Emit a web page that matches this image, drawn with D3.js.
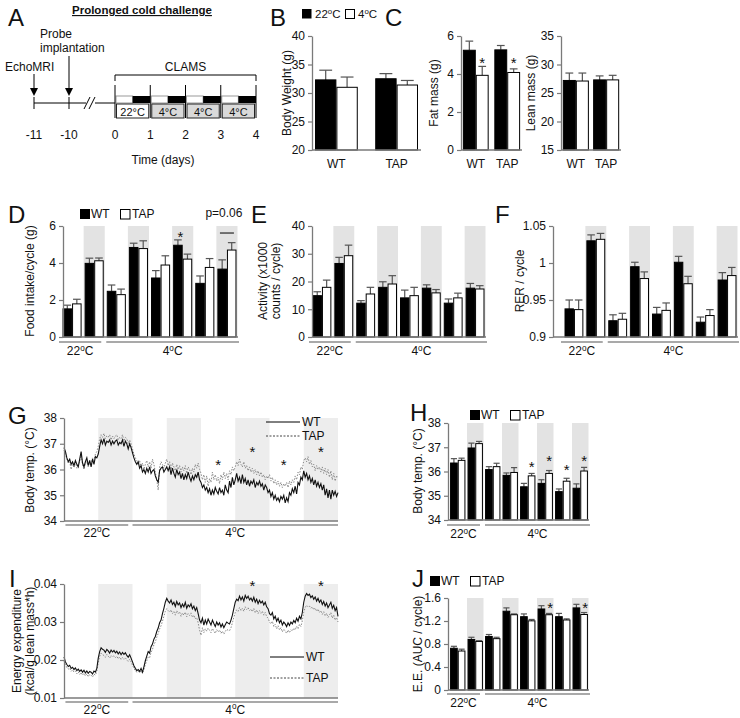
<!DOCTYPE html>
<html><head><meta charset="utf-8">
<script src="https://cdn.jsdelivr.net/npm/d3@7"></script>
<style>
body{margin:0;background:#fff;}
svg{display:block;font-family:"Liberation Sans",Arial,Helvetica,sans-serif;}
</style></head><body>
<svg id="fig" width="740" height="718"></svg>
<script>
// ---------------- DATA ----------------
const genotypes = ["WT", "TAP"];
// B: body weight (g)
const bodyWeight22 = [32.3, 32.5], bodyWeight22Err = [1.7, 0.9];
const bodyWeight4  = [31.0, 31.4], bodyWeight4Err  = [1.8, 0.8];
// C: fat / lean mass (g)
const fatMass22 = [5.25, 5.27], fatMass22Err = [0.48, 0.23];
const fatMass4  = [3.93, 4.08], fatMass4Err  = [0.47, 0.19];
const leanMass22 = [27.2, 27.3], leanMass22Err = [1.3, 0.7];
const leanMass4  = [27.1, 27.3], leanMass4Err  = [1.4, 0.8];
// cycles for D,E,F,H,J
const cyclePhase = ["light","dark","light","dark","light","dark","light","dark"];
const cycleTemp  = ["22","22","4","4","4","4","4","4"];
// D: food intake (g / cycle)
const foodWT = [1.52, 3.98, 2.47, 4.84, 3.19, 4.96, 2.90, 3.67];
const foodWTErr = [0.20, 0.28, 0.34, 0.23, 0.40, 0.29, 0.40, 0.50];
const foodTAP = [1.79, 4.12, 2.29, 4.78, 3.89, 4.21, 3.76, 4.70];
const foodTAPErr = [0.25, 0.15, 0.30, 0.42, 0.50, 0.27, 0.48, 0.40];
// E: activity (x1000 counts / cycle)
const actWT = [14.9, 26.5, 12.2, 17.9, 14.1, 17.6, 12.2, 17.6];
const actWTErr = [1.4, 2.2, 0.9, 2.0, 2.8, 1.2, 1.5, 1.7];
const actTAP = [17.9, 29.3, 15.5, 19.1, 14.9, 15.9, 14.1, 17.3];
const actTAPErr = [2.6, 3.8, 2.4, 3.0, 3.0, 1.2, 1.7, 1.2];
// F: RER / cycle
const rerWT = [0.938, 1.030, 0.922, 0.995, 0.931, 1.001, 0.920, 0.977];
const rerWTErr = [0.012, 0.008, 0.008, 0.006, 0.009, 0.008, 0.007, 0.010];
const rerTAP = [0.937, 1.032, 0.924, 0.979, 0.936, 0.972, 0.929, 0.983];
const rerTAPErr = [0.013, 0.008, 0.008, 0.009, 0.010, 0.010, 0.008, 0.011];
// H: body temperature / cycle (°C)
const tempWT = [36.35, 36.97, 36.08, 35.84, 35.37, 35.51, 35.17, 35.31];
const tempWTErr = [0.18, 0.20, 0.12, 0.10, 0.14, 0.15, 0.11, 0.18];
const tempTAP = [36.46, 37.15, 36.20, 35.96, 35.82, 35.92, 35.60, 36.02];
const tempTAPErr = [0.09, 0.09, 0.14, 0.20, 0.10, 0.12, 0.12, 0.15];
// J: energy expenditure AUC / cycle
const eeWT = [0.726, 0.879, 0.931, 1.370, 1.275, 1.409, 1.275, 1.428];
const eeWTErr = [0.034, 0.038, 0.034, 0.058, 0.048, 0.057, 0.057, 0.062];
const eeTAP = [0.678, 0.845, 0.893, 1.309, 1.203, 1.309, 1.218, 1.313];
const eeTAPErr = [0.032, 0.012, 0.024, 0.014, 0.024, 0.023, 0.019, 0.034];
// G: body temperature trace, every 0.5 h from 0 to 96 h
const tempTraceWT = [
36.85,36.7,36.45,36.3,36.4,36.2,36.3,36.15,36.35,36.2,36.1,36.4,
36.7,36.25,36.1,36.3,36.45,36.15,36.35,36.1,36.4,36.2,36.5,36.45,
36.6,36.9,37.15,37.0,37.2,36.95,37.1,37.05,37.15,36.95,37.1,37.0,
37.1,37.15,36.95,37.05,37.0,37.15,36.9,37.1,37.0,36.8,37.0,36.85,
36.65,36.45,36.3,36.2,36.3,36.05,36.15,35.9,36.0,35.85,36.05,35.9,
36.1,35.85,35.95,36.0,35.75,35.6,35.5,35.95,36.05,36.1,35.9,36.0,
36.1,35.95,36.1,35.8,36.05,35.85,35.7,36.0,35.8,35.9,35.65,35.85,
35.6,35.8,35.65,35.9,35.7,35.55,35.75,35.6,35.8,35.7,35.9,35.6,
35.5,35.3,35.4,35.2,35.3,35.1,35.25,35.0,35.2,35.05,35.3,35.15,
35.05,35.3,35.1,35.2,35.0,35.4,35.2,35.1,35.55,35.3,35.7,35.4,
35.6,35.85,35.55,35.7,35.45,35.8,35.5,35.65,35.4,35.6,35.35,35.55,
35.45,35.6,35.3,35.5,35.4,35.55,35.35,35.45,35.2,35.4,35.3,35.1,
35.2,34.95,35.1,34.85,35.0,34.8,34.9,34.75,34.95,34.85,35.0,34.7,
34.9,34.75,35.1,35.0,35.25,35.1,35.35,35.05,35.5,35.4,35.7,35.6,
35.95,35.7,35.85,35.6,35.75,35.5,35.65,35.4,35.6,35.35,35.5,35.3,
35.45,35.2,35.4,35.0,35.25,34.9,35.2,34.85,35.2,35.0,35.15,34.95,
35.1];
const tempTraceTAP = [
36.75,36.6,36.4,36.25,36.3,36.0,36.25,36.1,36.3,36.05,36.2,36.3,
36.55,36.2,36.0,36.25,36.3,36.1,36.3,36.2,36.45,36.35,36.6,36.7,
36.9,37.2,37.35,37.25,37.4,37.2,37.3,37.25,37.35,37.15,37.3,37.2,
37.3,37.35,37.15,37.25,37.2,37.35,37.1,37.25,37.2,37.0,37.15,37.0,
36.8,36.6,36.45,36.35,36.2,36.35,36.1,36.25,36.0,36.2,36.35,36.1,
36.3,36.05,36.4,36.2,35.9,35.6,35.2,36.1,36.3,36.2,36.05,36.25,
36.4,36.15,36.3,36.0,36.25,36.1,35.95,36.2,36.0,36.15,35.9,36.1,
35.95,36.15,35.85,36.1,36.0,35.8,36.05,35.9,36.2,36.05,36.25,36.0,
35.85,35.6,35.8,35.5,35.75,35.35,35.65,35.5,35.9,35.6,35.8,35.55,
35.7,35.45,35.8,35.6,35.9,35.65,35.85,35.6,35.95,35.8,36.1,35.95,
36.1,36.3,36.15,36.4,36.2,36.1,36.3,36.05,36.15,35.95,36.1,35.9,
36.05,35.85,36.0,35.8,35.95,35.75,35.9,35.7,35.8,35.6,35.75,35.65,
35.8,35.55,35.7,35.45,35.6,35.4,35.55,35.35,35.5,35.3,35.45,35.35,
35.5,35.3,35.55,35.4,35.6,35.5,35.75,35.6,35.9,35.8,36.1,36.0,
36.35,36.45,36.3,36.5,36.2,36.35,36.1,36.2,35.95,36.15,36.0,36.1,
35.9,36.1,35.85,36.05,35.8,36.0,35.7,35.95,35.6,35.85,35.55,35.75,
35.7];
// I: energy expenditure trace (kcal/g lean mass*h), every 0.5 h
const eeTraceWT = [
.0208,.0195,.0188,.0183,.0186,.0178,.0181,.0175,.0179,.0172,.0176,.0170,
.0174,.0168,.0173,.0166,.0171,.0165,.0170,.0168,.0163,.0171,.0168,.0178,
.0205,.0222,.0232,.0228,.0226,.0220,.0228,.0224,.0218,.0226,.0221,.0225,
.0219,.0223,.0216,.0221,.0214,.0220,.0215,.0219,.0212,.0207,.0214,.0205,
.0195,.0185,.0178,.0172,.0175,.0170,.0178,.0168,.0182,.0198,.0210,.0222,
.0218,.0235,.0242,.0255,.0262,.0275,.0284,.0298,.0305,.0322,.0336,.0352,
.0362,.0355,.0350,.0358,.0346,.0352,.0341,.0354,.0345,.0350,.0338,.0347,
.0340,.0352,.0336,.0345,.0340,.0348,.0335,.0342,.0330,.0338,.0322,.0305,
.0298,.0310,.0292,.0305,.0295,.0308,.0300,.0292,.0305,.0296,.0288,.0300,
.0292,.0298,.0287,.0295,.0285,.0293,.0300,.0297,.0295,.0305,.0318,.0335,
.0352,.0360,.0356,.0368,.0358,.0366,.0355,.0370,.0362,.0368,.0358,.0363,
.0355,.0365,.0352,.0360,.0348,.0357,.0350,.0355,.0345,.0352,.0340,.0335,
.0322,.0318,.0325,.0308,.0315,.0302,.0310,.0298,.0305,.0292,.0300,.0295,
.0288,.0298,.0291,.0300,.0295,.0304,.0298,.0310,.0302,.0315,.0308,.0325,
.0352,.0368,.0375,.0370,.0373,.0364,.0369,.0360,.0366,.0355,.0362,.0352,
.0358,.0346,.0354,.0342,.0350,.0338,.0345,.0352,.0336,.0344,.0330,.0338,
.0315];
const eeTraceTAP = [
.0198,.0188,.0180,.0176,.0179,.0170,.0174,.0168,.0171,.0164,.0169,.0162,
.0167,.0160,.0165,.0158,.0164,.0156,.0162,.0160,.0155,.0163,.0160,.0170,
.0192,.0210,.0218,.0214,.0212,.0207,.0215,.0210,.0205,.0212,.0208,.0211,
.0206,.0210,.0203,.0208,.0201,.0207,.0202,.0206,.0200,.0196,.0202,.0195,
.0186,.0178,.0172,.0168,.0171,.0166,.0172,.0165,.0175,.0188,.0198,.0208,
.0206,.0220,.0228,.0240,.0248,.0260,.0270,.0282,.0290,.0302,.0315,.0328,
.0335,.0330,.0326,.0332,.0322,.0328,.0318,.0330,.0322,.0327,.0315,.0324,
.0318,.0326,.0314,.0322,.0317,.0324,.0312,.0318,.0308,.0312,.0298,.0278,
.0265,.0285,.0272,.0282,.0276,.0284,.0278,.0272,.0283,.0276,.0270,.0280,
.0274,.0279,.0270,.0276,.0268,.0275,.0281,.0278,.0277,.0285,.0298,.0312,
.0325,.0332,.0328,.0338,.0330,.0336,.0328,.0340,.0333,.0338,.0330,.0334,
.0327,.0336,.0324,.0332,.0322,.0330,.0323,.0328,.0318,.0325,.0314,.0310,
.0300,.0295,.0302,.0288,.0294,.0282,.0290,.0279,.0285,.0274,.0281,.0276,
.0270,.0279,.0272,.0280,.0276,.0284,.0279,.0289,.0282,.0294,.0288,.0303,
.0326,.0338,.0344,.0340,.0342,.0336,.0340,.0332,.0337,.0328,.0334,.0325,
.0330,.0320,.0327,.0316,.0323,.0312,.0318,.0325,.0310,.0318,.0305,.0312,
.0300];
const darkPhasesH = [[12,24],[36,48],[60,72],[84,96]];
const tempStarsG = [[54,36.3],[66,36.78],[77,36.3],[90,36.78]];
const eeStarsI = [[66,0.0402],[90,0.0402]];
// A: timeline
const preDays = [-11, -10];
const clamsDays = [0, 1, 2, 3, 4];
const clamsTemps = ["22", "4", "4", "4"];

// ---------------- STYLE ----------------
const svg = d3.select("#fig");
const AXIS_COL = "#7a7a7a", TXT = "#111", SHADE = "#e3e3e3", SHADE_L = "#ededed";
const FS = 12;

function degText(sel, num, sym) {
  sel.append("tspan").text(num);
  if (sym === "deg") { sel.append("tspan").text("°C"); return; }
  sel.append("tspan").attr("font-size", "0.68em").attr("dy", "-0.5em").text("o");
  sel.append("tspan").attr("dy", "0.34em").text("C");
}
function letter(t, x, y) {
  svg.append("text").attr("x", x).attr("y", y).attr("font-size", 24).attr("fill", TXT).text(t);
}
function yAxis(scale, x, ticks, fmt) {
  const ax = d3.axisLeft(scale).tickValues(ticks).tickSize(4).tickSizeOuter(0).tickPadding(3)
    .tickFormat(fmt || (d => d));
  const a = svg.append("g").attr("transform", `translate(${x},0)`).call(ax);
  a.select(".domain").attr("stroke", AXIS_COL).attr("stroke-width", 1.3);
  a.selectAll(".tick line").attr("stroke", AXIS_COL).attr("stroke-width", 1.2);
  a.selectAll(".tick text").attr("fill", TXT).attr("font-size", FS).attr("font-family", "Liberation Sans, Arial, sans-serif");
  return a;
}
function yTitle(lines, x, yc) {
  lines.forEach((l, i) => {
    svg.append("text").attr("transform", `translate(${x + i * 13},${yc}) rotate(-90)`)
      .attr("text-anchor", "middle").attr("font-size", FS).attr("fill", TXT).text(l);
  });
}
function hline(x1, x2, y, col, w) {
  svg.append("line").attr("x1", x1).attr("x2", x2).attr("y1", y).attr("y2", y)
    .attr("stroke", col || AXIS_COL).attr("stroke-width", w || 1.3);
}
function star(x, y) {
  svg.append("text").attr("x", x).attr("y", y + 8).attr("text-anchor", "middle")
    .attr("font-size", 15).attr("fill", TXT).text("*");
}
function legendWT(x, y) {
  svg.append("rect").attr("x", x).attr("y", y - 9).attr("width", 10).attr("height", 10).attr("fill", "#000");
  svg.append("text").attr("x", x + 11).attr("y", y).attr("font-size", FS).attr("fill", TXT).text("WT");
  svg.append("rect").attr("x", x + 40.5).attr("y", y - 8.5).attr("width", 9.5).attr("height", 9.5)
    .attr("fill", "#fff").attr("stroke", "#000");
  svg.append("text").attr("x", x + 52).attr("y", y).attr("font-size", FS).attr("fill", TXT).text("TAP");
}

// ---------------- PANEL A ----------------
(function () {
  letter("A", 8, 26);
  svg.append("text").attr("x", 72).attr("y", 14).attr("font-size", 11.5)
    .attr("font-weight", "bold").attr("fill", TXT).attr("text-decoration", "underline")
    .text("Prolonged cold challenge");
  const xPre = d3.scaleLinear().domain([-11, -10]).range([34, 69]);
  const xDay = d3.scaleLinear().domain([0, 4]).range([115, 256]);
  const yT = 103;
  svg.append("text").attr("x", 40).attr("y", 38).attr("font-size", FS).attr("fill", TXT).text("Probe");
  svg.append("text").attr("x", 40).attr("y", 52).attr("font-size", FS).attr("fill", TXT).text("implantation");
  svg.append("text").attr("x", 5).attr("y", 71).attr("font-size", FS).attr("fill", TXT).text("EchoMRI");
  [[preDays[0], 74], [preDays[1], 56]].forEach(([d, y0]) => {
    const x = xPre(d);
    svg.append("line").attr("x1", x).attr("x2", x).attr("y1", y0).attr("y2", 90).attr("stroke", "#000");
    svg.append("path").attr("d", `M${x - 4},88 L${x + 4},88 L${x},96 Z`).attr("fill", "#000");
  });
  svg.append("line").attr("x1", xPre(-11)).attr("x2", 86).attr("y1", yT).attr("y2", yT).attr("stroke", "#000");
  svg.append("line").attr("x1", 95).attr("x2", xDay(0)).attr("y1", yT).attr("y2", yT).attr("stroke", "#000");
  [[84, 90], [89, 95]].forEach(([a, b]) => svg.append("line").attr("x1", a).attr("y1", 109).attr("x2", b).attr("y2", 97).attr("stroke", "#000"));
  preDays.forEach(d => svg.append("line").attr("x1", xPre(d)).attr("x2", xPre(d)).attr("y1", 97).attr("y2", 109).attr("stroke", "#000"));
  svg.append("path").attr("d", `M${xDay(0)},81 V75 H${xDay(4)} V81`).attr("fill", "none").attr("stroke", "#000");
  svg.append("text").attr("x", (xDay(0) + xDay(4)) / 2).attr("y", 71).attr("text-anchor", "middle")
    .attr("font-size", FS).attr("fill", TXT).text("CLAMS");
  clamsTemps.forEach((tp, i) => {
    svg.append("rect").attr("x", xDay(i) + 1).attr("y", 96).attr("width", xDay(i + 0.5) - xDay(i) - 1).attr("height", 7)
      .attr("fill", "#fff").attr("stroke", "#999");
    svg.append("rect").attr("x", xDay(i + 0.5)).attr("y", 96).attr("width", xDay(i + 1) - xDay(i + 0.5)).attr("height", 7)
      .attr("fill", "#000");
    svg.append("rect").attr("x", xDay(i) + 1.5).attr("y", 104).attr("width", xDay(i + 1) - xDay(i) - 3).attr("height", 14)
      .attr("fill", tp === "22" ? "#fff" : "#d9d9d9").attr("stroke", "#222");
    const tx = svg.append("text").attr("x", (xDay(i) + xDay(i + 1)) / 2).attr("y", 115.5).attr("text-anchor", "middle")
      .attr("font-size", 11).attr("fill", TXT);
    degText(tx, tp, "deg");
  });
  clamsDays.forEach(d => svg.append("line").attr("x1", xDay(d)).attr("x2", xDay(d)).attr("y1", 85).attr("y2", 118)
    .attr("stroke", "#000"));
  preDays.forEach(d => svg.append("text").attr("x", xPre(d)).attr("y", 139).attr("text-anchor", "middle")
    .attr("font-size", FS).attr("fill", TXT).text(d));
  clamsDays.forEach(d => svg.append("text").attr("x", xDay(d)).attr("y", 139).attr("text-anchor", "middle")
    .attr("font-size", FS).attr("fill", TXT).text(d));
  svg.append("text").attr("x", 163).attr("y", 164).attr("text-anchor", "middle").attr("font-size", FS)
    .attr("fill", TXT).text("Time (days)");
})();

// ---------------- simple 2-category bars (B, C) ----------------
function simpleBars(o) {
  const y = d3.scaleLinear().domain(o.domain).range([o.yBot, o.yTop]);
  const x = d3.scaleBand().domain(genotypes).range([o.x0, o.x1]).paddingInner(o.pi).paddingOuter(o.po);
  const ix = d3.scaleBand().domain(["a", "b"]).range([0, x.bandwidth()]);
  const series = [
    { k: "a", v: o.a, e: o.aErr, fill: "#000" },
    { k: "b", v: o.b, e: o.bErr, fill: "#fff" }];
  const g = svg.append("g");
  series.forEach(s => {
    genotypes.forEach((c, i) => {
      const bx = x(c) + ix(s.k), bw = ix.bandwidth(), cx = bx + bw / 2;
      g.append("line").attr("x1", cx).attr("x2", cx).attr("y1", y(s.v[i])).attr("y2", y(s.v[i] + s.e[i]))
        .attr("stroke", "#555").attr("stroke-width", 1.2);
      g.append("line").attr("x1", cx - bw * 0.3).attr("x2", cx + bw * 0.3).attr("y1", y(s.v[i] + s.e[i]))
        .attr("y2", y(s.v[i] + s.e[i])).attr("stroke", "#555").attr("stroke-width", 1.2);
      g.append("rect").attr("x", bx + 0.5).attr("width", bw - 1).attr("y", y(s.v[i]))
        .attr("height", o.yBot - y(s.v[i])).attr("fill", s.fill).attr("stroke", "#000").attr("stroke-width", 1);
    });
  });
  hline(o.x0, o.x1, o.yBot);
  yAxis(y, o.x0, o.ticks);
  genotypes.forEach(c => svg.append("text").attr("x", x(c) + x.bandwidth() / 2).attr("y", o.yBot + 18)
    .attr("text-anchor", "middle").attr("font-size", FS).attr("fill", TXT).text(c));
  if (o.stars) o.stars.forEach(([i, v]) => star(x(genotypes[i]) + ix("b") + ix.bandwidth() / 2, y(v)));
  return { x, y };
}

// ---------------- PANEL B ----------------
letter("B", 270, 26);
svg.append("rect").attr("x", 302).attr("y", 9).attr("width", 9.5).attr("height", 9.5).attr("fill", "#000");
degText(svg.append("text").attr("x", 315).attr("y", 18).attr("font-size", 11.5).attr("fill", TXT), "22");
svg.append("rect").attr("x", 345.5).attr("y", 9.5).attr("width", 9).attr("height", 9).attr("fill", "#fff").attr("stroke", "#000");
degText(svg.append("text").attr("x", 358).attr("y", 18).attr("font-size", 11.5).attr("fill", TXT), "4");
simpleBars({ domain: [20, 40], ticks: [20, 25, 30, 35, 40], x0: 312, x1: 421, yTop: 36, yBot: 150, pi: 0.29, po: 0.05,
  a: bodyWeight22, aErr: bodyWeight22Err, b: bodyWeight4, bErr: bodyWeight4Err });
yTitle(["Body Weight (g)"], 291, 93);

// ---------------- PANEL C ----------------
letter("C", 385, 26);
simpleBars({ domain: [0, 6], ticks: [0, 2, 4, 6], x0: 461, x1: 522, yTop: 36, yBot: 150, pi: 0.18, po: 0.06,
  a: fatMass22, aErr: fatMass22Err, b: fatMass4, bErr: fatMass4Err, stars: [[0, 4.72], [1, 4.72]] });
yTitle(["Fat mass (g)"], 438, 93);
simpleBars({ domain: [15, 35], ticks: [15, 20, 25, 30, 35], x0: 561, x1: 621, yTop: 36, yBot: 150, pi: 0.14, po: 0.06,
  a: leanMass22, aErr: leanMass22Err, b: leanMass4, bErr: leanMass4Err });
yTitle(["Lean mass (g)"], 535, 93);

// ---------------- grouped cycle bars ----------------
function cycleBars(o) {
  const y = d3.scaleLinear().domain(o.domain).range([o.yBot, o.yTop]);
  const gx = d3.scaleBand().domain(d3.range(cyclePhase.length)).range(o.xr);
  const ix = d3.scaleBand().domain(genotypes).range([0, gx.bandwidth()]).paddingOuter(o.po || 0.16);
  const g = svg.append("g");
  g.selectAll("rect.shade").data(cyclePhase.map((p, i) => ({ p, i })).filter(d => d.p === "dark")).join("rect")
    .attr("x", d => gx(d.i) + 0.5).attr("width", gx.bandwidth() - 1).attr("y", o.yTop)
    .attr("height", o.yBot - o.yTop).attr("fill", SHADE);
  const series = [
    { k: "WT", v: o.wt, e: o.wtErr, fill: "#000" },
    { k: "TAP", v: o.tap, e: o.tapErr, fill: "#fff" }];
  series.forEach(s => {
    s.v.forEach((v, i) => {
      const bx = gx(i) + ix(s.k), bw = ix.bandwidth(), cx = bx + bw / 2, top = y(v + s.e[i]);
      g.append("line").attr("x1", cx).attr("x2", cx).attr("y1", y(v)).attr("y2", top).attr("stroke", "#555").attr("stroke-width", 1.2);
      g.append("line").attr("x1", cx - bw * 0.4).attr("x2", cx + bw * 0.4).attr("y1", top).attr("y2", top)
        .attr("stroke", "#555").attr("stroke-width", 1.2);
      g.append("rect").attr("x", bx + 0.5).attr("width", bw - 1).attr("y", y(v)).attr("height", o.yBot - y(v))
        .attr("fill", s.fill).attr("stroke", "#000").attr("stroke-width", 1);
    });
  });
  hline(o.x0, o.xr[1], o.yBot);
  yAxis(y, o.x0, o.ticks, o.fmt);
  const first4 = cycleTemp.indexOf("4");
  const l1 = [gx(0) - 2, gx(first4) - 4], l2 = [gx(first4) + 1, o.xr[1] + 1];
  [[l1, "22"], [l2, "4"]].forEach(([l, tp]) => {
    hline(l[0], l[1], o.yBot + o.gap, "#555", 1.2);
    degText(svg.append("text").attr("x", (l[0] + l[1]) / 2).attr("y", o.yBot + o.gap + 13).attr("text-anchor", "middle")
      .attr("font-size", FS).attr("fill", TXT), tp);
  });
  if (o.stars) o.stars.forEach(([i, v, dx]) => star(gx(i) + ix("TAP") + ix.bandwidth() / 2 + (dx || 0), y(v)));
  return { gx, ix, y };
}

// ---------------- PANEL D ----------------
letter("D", 8, 223);
legendWT(80, 218);
const pD = cycleBars({ domain: [0, 6], ticks: [0, 2, 4, 6], x0: 63, xr: [61, 238], yTop: 226, yBot: 337, gap: 5,
  wt: foodWT, wtErr: foodWTErr, tap: foodTAP, tapErr: foodTAPErr, stars: [[5, 5.55, -7]] });
yTitle(["Food intake/cycle (g)"], 34, 281);
(function () {
  const cx = pD.gx(7) + pD.gx.bandwidth() / 2;
  svg.append("text").attr("x", cx - 3).attr("y", 217).attr("text-anchor", "middle").attr("font-size", FS).attr("fill", TXT).text("p=0.06");
  hline(cx - 7, cx + 7, pD.y(5.62), "#000", 1);
})();

// ---------------- PANEL E ----------------
letter("E", 251, 223);
cycleBars({ domain: [0, 40], ticks: [0, 10, 20, 30, 40], x0: 312, xr: [311, 486], yTop: 226, yBot: 337, gap: 5,
  wt: actWT, wtErr: actWTErr, tap: actTAP, tapErr: actTAPErr });
yTitle(["Activity (x1000", "counts / cycle)"], 267, 281);

// ---------------- PANEL F ----------------
letter("F", 495, 223);
cycleBars({ domain: [0.9, 1.05], ticks: [0.9, 0.95, 1, 1.05], x0: 553, xr: [563, 738], yTop: 226, yBot: 337, gap: 5,
  wt: rerWT, wtErr: rerWTErr, tap: rerTAP, tapErr: rerTAPErr });
yTitle(["RER / cycle"], 524, 281);

// ---------------- line panels (G, I) ----------------
function linePanel(o) {
  const x = d3.scaleLinear().domain([0, 96]).range([o.x0, o.x1]);
  const y = d3.scaleLinear().domain(o.domain).range([o.yBot, o.yTop]);
  svg.append("g").selectAll("rect").data(darkPhasesH).join("rect")
    .attr("x", d => x(d[0])).attr("width", d => x(d[1]) - x(d[0])).attr("y", o.yTop).attr("height", o.yBot - o.yTop)
    .attr("fill", SHADE_L);
  const line = d3.line().x((d, i) => x(i * 0.5)).y(d => y(d));
  svg.append("path").datum(o.tap).attr("d", line).attr("fill", "none").attr("stroke", "#8a8a8a")
    .attr("stroke-width", 1).attr("stroke-dasharray", "1.5,1.5");
  svg.append("path").datum(o.wt).attr("d", line).attr("fill", "none").attr("stroke", "#111").attr("stroke-width", 1.1);
  hline(o.x0, o.x1, o.yBot);
  yAxis(y, o.x0, o.ticks, o.fmt);
  const lg = o.legend;
  svg.append("line").attr("x1", lg[0]).attr("x2", lg[0] + 34).attr("y1", lg[1]).attr("y2", lg[1]).attr("stroke", "#000");
  svg.append("text").attr("x", lg[0] + 36).attr("y", lg[1] + 4).attr("font-size", FS).attr("fill", TXT).text("WT");
  svg.append("line").attr("x1", lg[0]).attr("x2", lg[0] + 34).attr("y1", lg[2]).attr("y2", lg[2]).attr("stroke", "#444")
    .attr("stroke-dasharray", "2,1.5");
  svg.append("text").attr("x", lg[0] + 36).attr("y", lg[2] + 4).attr("font-size", FS).attr("fill", TXT).text("TAP");
  [[[0.5, 22.5], "22"], [[24, 96], "4"]].forEach(([r, tp]) => {
    hline(x(r[0]), x(r[1]), o.yBot + 4, "#555", 1.2);
    degText(svg.append("text").attr("x", (x(r[0]) + x(r[1])) / 2).attr("y", o.yBot + 15.5).attr("text-anchor", "middle")
      .attr("font-size", FS).attr("fill", TXT), tp);
  });
  o.stars.forEach(([h, v]) => star(x(h), y(v)));
}

// ---------------- PANEL G ----------------
letter("G", 8, 424);
linePanel({ domain: [34, 38], ticks: [34, 35, 36, 37, 38], x0: 64, x1: 338, yTop: 418, yBot: 521,
  wt: tempTraceWT, tap: tempTraceTAP, legend: [266, 422, 436], stars: tempStarsG });
yTitle(["Body temp. (°C)"], 34, 470);

// ---------------- PANEL H ----------------
letter("H", 410, 421);
legendWT(470, 419);
cycleBars({ domain: [34, 38], ticks: [34, 35, 36, 37, 38], x0: 448, xr: [449, 589], yTop: 423, yBot: 520, gap: 5,
  wt: tempWT, wtErr: tempWTErr, tap: tempTAP, tapErr: tempTAPErr, po: 0.14,
  stars: [[4, 36.3], [5, 36.55], [6, 36.2], [7, 36.55]] });
yTitle(["Body temp. (°C)"], 422, 471);

// ---------------- PANEL I ----------------
svg.append("text").attr("x", 9).attr("y", 587).attr("font-size", 24).attr("fill", TXT).text("I");
linePanel({ domain: [0.01, 0.04], ticks: [0.01, 0.02, 0.03, 0.04], x0: 64, x1: 338, yTop: 584, yBot: 698,
  fmt: d3.format(".2f"), wt: eeTraceWT, tap: eeTraceTAP, legend: [270, 657, 678], stars: eeStarsI });
yTitle(["Energy expenditure", "(kcal/g lean mass*h)"], 21, 641);

// ---------------- PANEL J ----------------
letter("J", 412, 587);
legendWT(430, 585);
cycleBars({ domain: [0, 1.6], ticks: [0, 0.4, 0.8, 1.2, 1.6], x0: 448, xr: [449, 589], yTop: 598, yBot: 690, gap: 4,
  fmt: d3.format(".1~f"), wt: eeWT, wtErr: eeWTErr, tap: eeTAP, tapErr: eeTAPErr, po: 0.14,
  stars: [[5, 1.47, 1], [7, 1.47, 1]] });
yTitle(["E.E. (AUC / cycle)"], 422, 644);
</script></body></html>
